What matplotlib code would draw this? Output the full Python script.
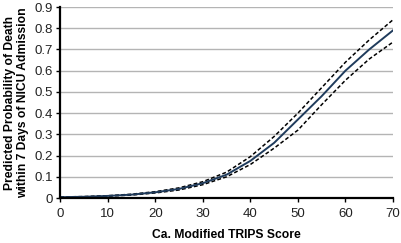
import matplotlib
matplotlib.use('Agg')
import matplotlib.pyplot as plt

plt.rcParams['font.family'] = ['Liberation Sans', 'DejaVu Sans']

#data
score = [0, 5, 10, 15, 20, 25, 30, 35, 40, 45, 50, 55, 60, 65, 70]
prob = [0.004, 0.006, 0.010, 0.016, 0.027, 0.043, 0.070, 0.110, 0.175, 0.260, 0.370, 0.480, 0.600, 0.700, 0.790]
upper = [0.005, 0.007, 0.011, 0.018, 0.030, 0.048, 0.077, 0.122, 0.195, 0.290, 0.400, 0.520, 0.640, 0.745, 0.840]
lower = [0.003, 0.005, 0.009, 0.014, 0.024, 0.038, 0.063, 0.100, 0.158, 0.235, 0.320, 0.440, 0.555, 0.655, 0.735]
xticks = [0, 10, 20, 30, 40, 50, 60, 70]
yticks = [0, 0.1, 0.2, 0.3, 0.4, 0.5, 0.6, 0.7, 0.8, 0.9]

fig = plt.figure(figsize=(4.01, 2.43), dpi=100)
ax = fig.add_axes([0.15, 0.185, 0.83, 0.786])

for y in yticks[1:]:
    ax.axhline(y, color='#b4b4b4', lw=1, zorder=0)

ax.plot(score, upper, color='black', lw=1.1, ls=(0, (2.5, 1.5)))
ax.plot(score, lower, color='black', lw=1.1, ls=(0, (2.5, 1.5)))
ax.plot(score, prob, color='#1f3b5c', lw=1.4)

ax.set_xlim(0, 70)
ax.set_ylim(0, 0.9)
ax.set_xticks(xticks)
ax.set_yticks(yticks)
ax.set_yticklabels(['0' if t == 0 else '%.1f' % t for t in yticks])
ax.tick_params(labelsize=9.5, width=1, length=3, color='black', labelcolor='#222222')
ax.tick_params(axis='x', pad=4)
ax.tick_params(axis='y', pad=2)

for s in ['top', 'right']:
    ax.spines[s].set_visible(False)
for s in ['left', 'bottom']:
    ax.spines[s].set_linewidth(1.6)

ax.set_xlabel('Ca. Modified TRIPS Score', fontsize=8.7, fontweight='bold', labelpad=7)
ax.set_ylabel('Predicted Probability of Death\nwithin 7 Days of NICU Admission', fontsize=8.7,
              fontweight='bold', labelpad=4, linespacing=1.1)

fig.savefig('out.png', dpi=100)
